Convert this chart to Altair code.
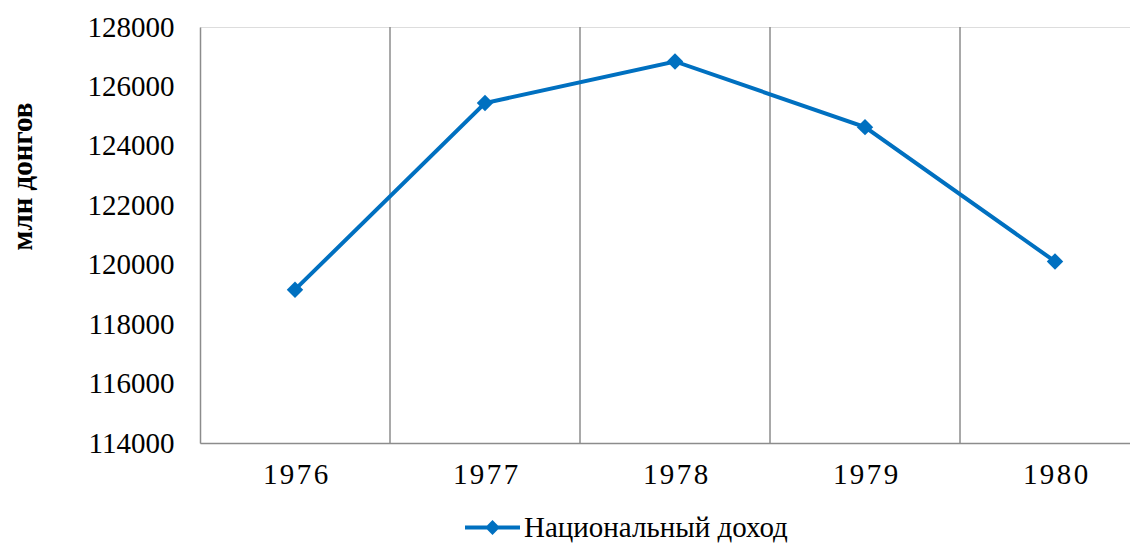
import altair as alt
import pandas as pd

years = [1976, 1977, 1978, 1979, 1980]
income = [119160, 125440, 126840, 124630, 120110]
series_name = "Национальный доход"
y_title = "млн донгов"
y_ticks = [114000, 116000, 118000, 120000, 122000, 124000, 126000, 128000]

df = pd.DataFrame({"year": years, "value": income, "series": [series_name] * len(years)})

BLUE = "#0070C0"
GRID = "#8c8c8c"
FONT = "Liberation Serif"
HS = "\u200a"

legend_symbol = ("M-1,-0.07L1,-0.07L1,0.07L-1,0.07Z "
                 "M0,-0.27L0.27,0L0,0.27L-0.27,0Z")

label_expr = (
    f"substring(datum.label,0,1) + '{HS}' + substring(datum.label,1,2) + '{HS}' + "
    f"substring(datum.label,2,3) + '{HS}' + substring(datum.label,3,4)"
)

x_scale = alt.Scale(domain=[1975.5, 1980.3947], nice=False, zero=False)

grid = alt.Chart(df).transform_filter(
    "datum.year < 1980"
).transform_calculate(
    gx="datum.year + 0.5"
).mark_rule(color=GRID, strokeWidth=1.5).encode(
    x=alt.X("gx:Q", scale=x_scale)
)

line = alt.Chart(df).mark_line(
    strokeWidth=4,
    point=alt.OverlayMarkDef(shape="diamond", size=270, filled=True, color=BLUE),
).encode(
    x=alt.X(
        "year:Q",
        scale=x_scale,
        axis=alt.Axis(
            values=years,
            format="d",
            labelExpr=label_expr,
            ticks=False,
            grid=False,
            domainColor=GRID,
            domainWidth=1.5,
            labelFontSize=29,
            labelFont=FONT,
            labelColor="#000000",
            labelPadding=17,
            title=None,
        ),
    ),
    y=alt.Y(
        "value:Q",
        scale=alt.Scale(domain=[114000, 128000], nice=False, zero=False),
        axis=alt.Axis(
            values=y_ticks,
            format="d",
            ticks=False,
            grid=False,
            domainColor=GRID,
            domainWidth=1.5,
            labelFontSize=29,
            labelFont=FONT,
            labelColor="#000000",
            labelPadding=26,
            title=y_title,
            titleFont=FONT,
            titleFontSize=29,
            titleFontWeight="bold",
            titleColor="#000000",
            titleX=-178,
            titleY=149,
            titleAngle=270,
            titleAlign="center",
            titleBaseline="middle",
        ),
    ),
    color=alt.Color(
        "series:N",
        scale=alt.Scale(range=[BLUE]),
        legend=alt.Legend(
            title=None,
            orient="none",
            legendX=265,
            legendY=473,
            direction="horizontal",
            symbolType=legend_symbol,
            symbolSize=3025,
            symbolFillColor=BLUE,
            symbolStrokeWidth=0,
            labelFont=FONT,
            labelFontSize=29,
            labelColor="#000000",
            labelOffset=4,
            labelLimit=400,
        ),
    ),
)

chart = alt.layer(grid, line).properties(
    width=930,
    height=416,
    autosize=alt.AutoSizeParams(type="none"),
    padding={"left": 192, "top": 19, "right": 0, "bottom": 100},
).configure_view(
    stroke=None
).configure(
    font=FONT
)

chart.save("out.html", embed_options={"renderer": "svg", "actions": False})
